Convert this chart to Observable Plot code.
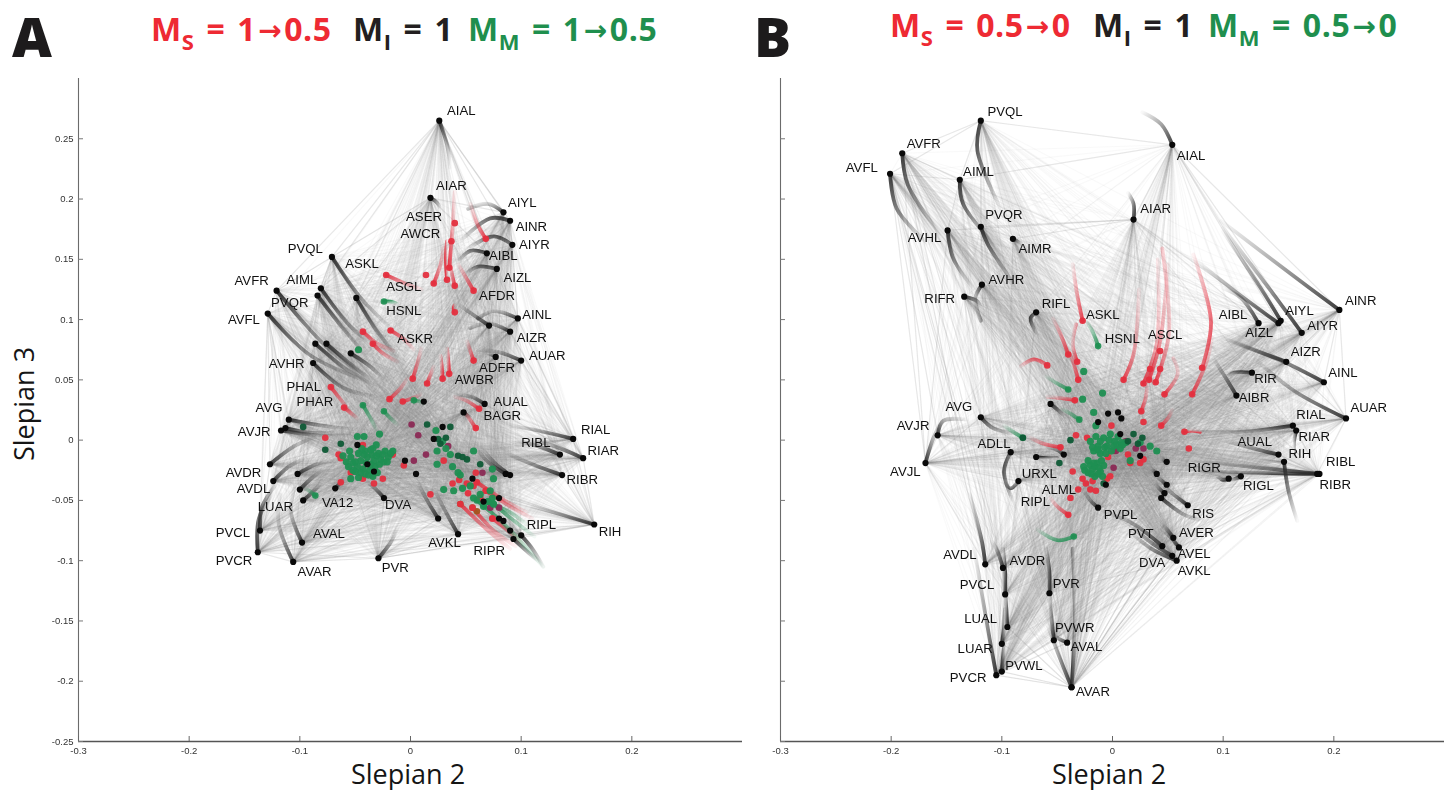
<!DOCTYPE html>
<html><head><meta charset="utf-8">
<script src="https://cdn.jsdelivr.net/npm/d3@7"></script>
<script src="https://cdn.jsdelivr.net/npm/@observablehq/plot@0.6"></script>
<style>
html,body{margin:0;padding:0;background:#fff;width:1448px;height:790px;overflow:hidden}
#page{position:relative;width:1448px;height:790px}
#page svg{position:absolute;top:0;filter:blur(.3px)}
.t{position:absolute;white-space:nowrap;font-family:"Open Sans";font-weight:700;font-size:32px;line-height:38px;letter-spacing:.6px;word-spacing:3px;transform-origin:left top}
.t sub{font-size:22px;vertical-align:-9px;line-height:0}
.t .ar{font-family:"DejaVu Sans";font-weight:700;font-size:28px;line-height:0;vertical-align:1px;margin:0 2px}
.letter{position:absolute;font-family:"Open Sans";font-weight:800;font-size:55px;line-height:60px;color:#1d1b1c}
.ax{position:absolute;font-family:"Open Sans";font-size:27px;line-height:30px;color:#151515;white-space:nowrap;transform-origin:left top}
</style></head><body><div id="page"></div>
<script>
const xTicks=[-0.3,-0.2,-0.1,0,0.1,0.2];
const yTicks=[0.25,0.2,0.15,0.1,0.05,0,-0.05,-0.1,-0.15,-0.2,-0.25];

// each trajectory: name, node x, y, mid x, y, tail x, y (Slepian 2, Slepian 3)
const interA=[
["AIAL",.026,.265,.033,.245,.036,.226],["AIAR",.018,.201,.024,.197,.027,.192],
["AIYL",.084,.189,.07,.196,.052,.192],["AINR",.09,.182,.072,.184,.045,.165],
["AIYR",.092,.162,.075,.169,.052,.159],["AIBL",.069,.155,.054,.157,.043,.148],
["AIZL",.078,.142,.061,.144,.05,.138],["AINL",.097,.101,.075,.107,.061,.101],
["AIZR",.09,.09,.07,.097,.054,.093],["ADFR",.071,.095,.055,.105,.043,.113],
["PVQL",-.071,.152,-.045,.118,-.018,.093],["ASKL",-.049,.118,-.03,.09,-.012,.07],
["AVFR",-.121,.124,-.072,.074,-.036,.051],["AIML",-.081,.126,-.055,.095,-.032,.078],
["PVQR",-.084,.12,-.062,.094,-.04,.07],["AVFL",-.129,.105,-.09,.07,-.028,.045],
["n1",-.086,.08,-.06,.06,-.039,.049],["n2",-.076,.08,-.05,.06,-.033,.049],
["n3",-.054,.072,-.035,.06,-.024,.049],["AVHR",-.088,.064,-.06,.043,-.03,.036],
["AVG",-.11,.017,-.08,.012,-.055,.009],["AVJR",-.117,.008,-.085,.004,-.055,.004],
["n4",-.113,.01,-.09,.006,-.07,.006],["AVDR",-.127,-.02,-.105,-.005,-.085,.003],
["AVDL",-.124,-.034,-.11,-.022,-.095,-.015],["n5",-.102,-.028,-.085,-.02,-.07,-.017],
["n6",-.1,-.041,-.09,-.032,-.08,-.025],["n7",-.097,-.05,-.085,-.04,-.08,-.034],
["n8",-.068,-.04,-.063,-.035,-.06,-.032],["PVCL",-.136,-.075,-.134,-.055,-.12,-.035],
["PVCR",-.138,-.093,-.137,-.065,-.125,-.045],["AVAR",-.106,-.101,-.119,-.07,-.118,-.045],
["AVAL",-.098,-.085,-.108,-.06,-.105,-.04],["PVR",-.029,-.098,-.018,-.085,-.012,-.073],
["DVA",-.024,-.048,-.032,-.04,-.04,-.034],["AVKL",.043,-.078,.032,-.06,.021,-.04],
["n9",.025,-.065,.015,-.05,.006,-.034],["RIH",.166,-.07,.13,-.06,.11,-.055],
["RIAL",.147,.001,.115,.008,.09,.012],["RIAR",.156,-.015,.13,-.005,.11,0],
["RIBL",.135,-.012,.115,-.005,.095,0],["RIBR",.137,-.029,.11,-.02,.085,-.01],
["n10",.086,-.028,.07,-.018,.06,-.007],["n11",.09,-.029,.075,-.018,.065,-.007],
["AUAR",.1,.066,.08,.073,.06,.075],["n12",.077,.069,.073,.071,.07,.072],
["AUAL",.067,.03,.055,.036,.04,.038],["BAGR",.048,.023,.052,.02,.055,.018],
["RIPL",.1,-.079,.11,-.09,.12,-.105],["RIPR",.093,-.082,.105,-.092,.115,-.1]];
const sensoryA=[
[-.022,.137,-.005,.13,.01,.125],[.021,.13,.027,.145,.03,.16],[.033,.133,.032,.15,.033,.165],
[.035,.143,.038,.175,.04,.206],[.04,.128,.036,.145,.036,.16],[.068,.167,.06,.18,.054,.196],
[.057,.124,.05,.135,.043,.146],[.04,.106,.039,.109,.04,.112],[-.043,.09,-.03,.08,-.015,.074],
[-.018,.091,-.005,.083,.003,.075],[-.034,.08,-.025,.072,-.012,.065],[.002,.051,.006,.063,.01,.076],
[-.019,.034,-.01,.042,-.003,.051],[-.007,.032,.002,.035,.009,.038],[.015,.047,.018,.054,.021,.061],
[.029,.051,.028,.063,.027,.07],[.035,.055,.034,.067,.033,.076],[.057,.066,.054,.074,.051,.082],
[-.072,.044,-.06,.03,-.054,.022],[-.06,.027,-.052,.021,-.048,.018],[.062,.026,.05,.033,.04,.036],
[.059,.01,.053,.018,.048,.024],[.045,-.053,.07,-.075,.09,-.09],[.056,-.056,.075,-.075,.095,-.088],
[.074,-.065,.088,-.075,.1,-.085],[.068,-.042,.09,-.055,.11,-.065],[.06,-.035,.085,-.05,.105,-.06]];
const motorA=[
[-.024,.115,-.018,.115,-.012,.113],[-.043,.029,-.036,.018,-.03,.007],[-.024,.024,-.018,.018,-.012,.013],
[.003,.033,.008,.032,.012,.03],[-.086,-.046,-.09,-.043,-.095,-.04],[.06,-.05,.085,-.07,.12,-.105],
[.075,-.053,.095,-.068,.112,-.08],[.07,-.051,.09,-.06,.105,-.07]];
const greenA=[[-.061,-.013],[-.055,-.009],[-.052,-.019],[-.05,-.026],[-.047,-.011],[-.045,-.017],[-.043,-.024],[-.041,-.009],[-.039,-.014],[-.038,-.029],[-.034,-.007],[-.033,-.017],[-.032,-.022],[-.029,-.011],[-.027,-.016],[-.023,-.009],[-.02,-.014],[-.016,-.009],[-.054,-.032],[-.047,-.031],[-.048,.003],[-.042,.003],[-.028,.005],[-.05,-.018],[-.036,-.02],[-.028,-.02],[-.042,-.012],[-.035,-.012],[-.045,-.027],[-.03,-.027],[-.058,-.018],[-.054,-.014],[-.048,-.022],[-.044,-.007],[-.04,-.019],[-.037,-.025],[-.036,-.008],[-.031,-.013],[-.025,-.012],[-.024,-.018],[-.021,-.018],[-.041,-.028],[-.034,-.03],[-.052,-.025],[-.056,-.022],[-.018,-.011],[-.031,-.004],[-.047,.075],[.023,.008],[.029,-.001],[.024,-.009],[.032,-.007],[.057,-.009],[.024,-.02],[.038,-.022],[.036,-.012],[.043,-.027],[.045,-.029],[.03,-.041],[.039,-.042],[.047,-.04],[.074,-.024],[.075,-.032],[.057,-.048],[.074,-.048],[.07,-.051],[.072,-.042],[.063,-.045],[.075,-.053],[.066,-.055],[.054,-.038]];
const darkGreenA=[[-.077,-.008],[-.063,-.003],[-.097,.011],[.015,.013],[.036,.011],[.027,-.003],[.032,.002],[.025,.001],[.043,-.013],[.047,-.014],[.051,-.016],[.063,-.02]];
const redA=[[.014,.137],[.037,.165],[.04,.18],[.03,-.017],[.059,-.027],[.018,-.045],[.038,-.036],[.044,-.033],[.051,-.036],[.057,-.038],[.052,-.044],[.074,-.065],[.068,-.042],[.063,-.048],[-.077,.002],[-.063,-.015],[-.065,-.012],[-.054,-.027],[-.063,-.035],[-.043,-.032],[-.033,-.036],[-.025,-.032],[-.016,-.012],[-.006,-.021],[-.043,-.004]];
const brownA=[[.045,-.053],[.056,-.056],[.06,-.059]];
const plumA=[[.001,.013],[.007,.004],[.014,-.012],[.003,-.017],[.034,-.005],[.065,-.027],[.08,-.056],[.072,-.056]];
const blackA=[[.08,-.048],[.066,-.051],[.08,-.065],[.084,-.067],[.09,-.075],[-.048,-.004],[-.005,-.017],[.005,-.028],[.021,.001],[.029,.011],[.012,.032],[.056,-.032],[-.039,-.02],[-.033,-.026]];
const labelsA=[["AIAL",.033,.273],["AIAR",.023,.211],["AIYL",.088,.197],["AINR",.095,.177],["AIYR",.098,.162],["AIBL",.071,.153],["AIZL",.084,.135],["AFDR",.062,.12],["ASER",-.004,.185],["AWCR",-.009,.171],["PVQL",-.111,.159],["ASKL",-.059,.146],["AVFR",-.159,.132],["AIML",-.112,.133],["ASGL",-.022,.127],["PVQR",-.126,.114],["HSNL",-.022,.107],["AVFL",-.165,.1],["AINL",.101,.104],["AIZR",.096,.085],["ASKR",-.012,.084],["AUAR",.107,.07],["ADFR",.062,.06],["AVHR",-.128,.063],["AWBR",.04,.05],["PHAL",-.112,.044],["AUAL",.075,.032],["PHAR",-.103,.032],["BAGR",.066,.02],["AVG",-.14,.027],["AVJR",-.156,.007],["RIAL",.154,.009],["RIBL",.1,-.002],["RIAR",.16,-.009],["AVDR",-.167,-.027],["RIBR",.141,-.033],["AVDL",-.157,-.04],["LUAR",-.138,-.055],["VA12",-.08,-.052],["DVA",-.023,-.054],["RIPL",.105,-.07],["RIH",.17,-.076],["PVCL",-.176,-.077],["AVAL",-.088,-.078],["AVKL",.016,-.085],["RIPR",.057,-.092],["PVCR",-.176,-.1],["AVAR",-.102,-.109],["PVR",-.026,-.106]];
const wiresA=[["AIAL",["AIAR","AIYL","AINR","AIYR","AIBL","AIZL","PVQL","AIML","AVFR","ASKL","AINL"]],["AIAR",["AIYL","AIBL","PVQL","ASKL","AIML"]],["PVCR",["AVAR","PVCL","AVDL","AVDR","AVKL","PVR","AVAL"]],["AVAR",["AVAL","PVR","AVKL","DVA","RIH","RIPR"]],["RIH",["RIAL","RIAR","RIBL","RIBR","RIPL","AVKL","PVR","RIPR"]],["RIAR",["AUAR","AINL","AIZR","RIBR","AUAL"]],["PVR",["AVKL","RIPL","DVA","n9"]],["AVFL",["AVFR","PVCL","AVDR","AVJR","AVG"]],["PVQL",["AVFR","AIML","PVQR"]],["AINR",["AIYR","AINL","AIZL"]]];

const interB=[
["PVQL",-.119,.265,-.122,.24,-.1,.19],["AVFR",-.19,.238,-.185,.212,-.156,.171],
["AVFL",-.201,.221,-.195,.192,-.167,.163],["AIML",-.138,.216,-.135,.196,-.104,.159],
["PVQR",-.119,.177,-.113,.163,-.086,.126],["AVHL",-.149,.174,-.144,.151,-.126,.126],
["AIMR",-.09,.167,-.086,.165,-.083,.163],["AVHR",-.118,.129,-.124,.118,-.119,.099],
["RIFR",-.134,.119,-.122,.115,-.119,.109],["RIFL",-.069,.106,-.074,.101,-.068,.088],
["AIAL",.054,.245,.044,.262,.027,.272],["AIAR",.019,.183,.019,.196,.014,.205],
["AINR",.205,.108,.161,.138,.098,.182],["AIYR",.171,.089,.143,.124,.1,.176],
["AIYL",.152,.099,.134,.126,.1,.173],["AIZL",.15,.097,.11,.124,.077,.148],
["AIBL",.132,.097,.116,.118,.1,.126],["AIZR",.157,.065,.125,.076,.1,.085],
["AINL",.191,.048,.152,.066,.104,.082],["AUAR",.211,.018,.164,.041,.128,.068],
["RIR",.126,.056,.11,.056,.104,.053],["AIBR",.112,.037,.1,.055,.091,.068],
["RIAL",.163,.012,.119,.007,.073,.007],["RIAR",.166,.008,.164,-.001,.164,-.012],
["AUAL",.15,-.012,.128,-.007,.104,-.001],["RIH",.155,-.018,.159,-.042,.167,-.067],
["RIBL",.187,-.028,.134,-.023,.073,-.017],["RIBR",.185,-.028,.13,-.027,.08,-.025],
["RIGR",.105,-.032,.1,-.033,.095,-.03],["RIGL",.116,-.03,.108,-.033,.1,-.033],
["RIS",.068,-.054,.055,-.045,.045,-.037],["n1",.049,-.018,.047,-.017,.045,-.015],
["n2",.04,-.028,.038,-.026,.035,-.024],["n3",.049,-.037,.045,-.034,.04,-.03],
["n4",.047,-.044,.042,-.04,.038,-.036],["n5",.044,-.048,.065,-.062,.083,-.067],
["AVER",.055,-.081,.05,-.075,.045,-.07],["AVEL",.06,-.089,.052,-.08,.045,-.075],
["DVA",.054,-.096,.035,-.085,.015,-.07],["AVKL",.058,-.1,.035,-.09,.015,-.075],
["PVT",.045,-.088,.02,-.07,-.008,-.059],["PVPL",-.013,-.056,-.02,-.05,-.026,-.042],
["ADLL",-.092,-.01,-.098,-.026,-.09,-.05],["URXL",-.085,-.034,-.092,-.04,-.098,-.034],
["AVG",-.119,.019,-.108,.01,-.086,.005],["AVJR",-.158,.004,-.153,.016,-.131,.017],
["AVJL",-.169,-.019,-.163,-.001,-.156,.013],["n6",-.056,.03,-.048,.024,-.041,.018],
["n7",-.069,-.014,-.06,-.015,-.05,-.015],["n8",-.044,-.012,-.05,-.008,-.058,-.006],
["AVDL",-.115,-.103,-.118,-.084,-.129,-.045],["AVDR",-.099,-.106,-.104,-.092,-.109,-.084],
["PVCL",-.097,-.128,-.097,-.11,-.099,-.09],["LUAL",-.095,-.155,-.096,-.14,-.097,-.125],
["LUAR",-.1,-.169,-.098,-.155,-.097,-.14],["PVWL",-.1,-.192,-.099,-.18,-.097,-.165],
["PVCR",-.105,-.195,-.111,-.165,-.125,-.09],["AVAR",-.037,-.205,-.034,-.15,-.036,-.09],
["n9",-.037,-.205,-.05,-.175,-.06,-.15],["AVAL",-.041,-.168,-.05,-.164,-.054,-.16],
["PVWR",-.053,-.166,-.056,-.14,-.057,-.128],["PVR",-.057,-.127,-.057,-.11,-.06,-.09]];
const sensoryB=[
[-.027,.099,-.032,.121,-.036,.146],[-.04,.071,-.047,.088,-.054,.101],[-.032,.065,-.036,.08,-.033,.096],
[-.031,.05,-.036,.066,-.041,.076],[-.059,.062,-.071,.067,-.083,.061],[-.034,.033,-.047,.035,-.059,.036],
[-.047,-.006,-.062,-.003,-.074,.002],[.01,.05,.019,.071,.024,.125],[.028,.047,.04,.08,.041,.15],
[.033,.05,.043,.082,.05,.146],[.039,.048,.051,.088,.045,.159],[.047,.038,.059,.055,.055,.068],
[.081,.06,.089,.098,.073,.154],[.072,.038,.085,.065,.09,.085],[-.04,-.062,-.05,-.055,-.056,-.048],
[.026,.024,.03,.035,.032,.05],[.044,.012,.05,.018,.054,.025],[.065,.007,.072,.008,.079,.007]];
const motorB=[
[-.013,.078,-.018,.09,-.024,.099],[-.04,.042,-.05,.047,-.06,.053],[-.03,.017,-.038,.022,-.046,.026],
[-.035,-.08,-.05,-.083,-.068,-.074],[-.081,.002,-.09,.007,-.098,.012]];
const greenB=[[-.02,-.001],[-.015,.003],[-.013,-.005],[-.008,.002],[-.005,-.005],[-.002,.005],[.002,-.001],[.005,.003],[-.011,-.011],[-.017,-.009],[-.001,-.009],[.007,-.007],[.012,-.002],[-.018,-.006],[-.011,-.001],[-.007,-.006],[-.003,0],[.001,-.005],[.004,-.004],[.008,-.002],[-.013,-.008],[-.006,-.011],[.009,-.004],[-.026,-.022],[-.022,-.017],[-.018,-.024],[-.014,-.019],[-.011,-.026],[-.016,-.03],[-.008,-.021],[-.022,-.027],[-.009,-.03],[-.02,-.021],[-.016,-.022],[-.012,-.023],[-.019,-.028],[-.013,-.028],[-.017,-.019],[-.01,-.017],[-.025,-.025],[.025,-.002],[.034,-.005],[.04,-.009],[.016,-.017],[-.026,.057],[-.027,.034],[-.009,.039],[-.017,.023],[-.015,.012]];
const darkGreenB=[[.019,.005],[.023,-.003],[.014,-.001],[.027,.002],[-.008,-.036],[-.038,0],[-.048,-.019],[-.081,.002]];
const redB=[[-.033,.004],[-.023,.002],[.028,.015],[.069,-.007],[-.001,.012],[-.036,-.026],[-.038,-.048],[-.031,-.041],[-.027,-.032],[-.024,-.036],[-.018,-.034],[-.02,-.041],[-.015,-.042],[-.002,-.03],[-.005,-.032],[.014,-.012],[.028,-.016],[.025,-.019],[.016,-.019],[.001,-.009],[-.004,-.014],[.034,.059],[.043,.059],[.043,.074]];
const plumB=[[.028,-.007],[.021,-.007],[.003,-.009],[.001,-.023],[.012,-.001]];
const blackB=[[-.004,.022],[.005,.023],[.008,.018],[-.013,.015],[.025,-.013],[-.006,-.037],[.007,.005]];
const labelsB=[["PVQL",-.113,.272],["AIAL",.058,.236],["AVFR",-.186,.246],["AVFL",-.241,.226],["AIML",-.135,.223],["AIAR",.025,.192],["PVQR",-.115,.187],["AIMR",-.085,.159],["AVHL",-.185,.168],["AVHR",-.112,.133],["RIFR",-.17,.117],["RIFL",-.064,.113],["AINR",.21,.116],["ASKL",-.024,.104],["AIBL",.096,.104],["AIYL",.156,.107],["AIYR",.176,.095],["AIZL",.12,.089],["HSNL",-.007,.084],["ASCL",.032,.087],["AIZR",.161,.073],["AINL",.195,.056],["RIR",.128,.051],["AIBR",.114,.035],["AUAR",.215,.027],["RIAL",.166,.021],["AVG",-.151,.028],["RIAR",.168,.003],["AVJR",-.195,.012],["AUAL",.113,-.001],["ADLL",-.122,-.003],["RIH",.159,-.011],["RIBL",.193,-.018],["AVJL",-.201,-.026],["URXL",-.082,-.028],["RIGR",.068,-.023],["RIBR",.187,-.037],["RIGL",.118,-.038],["ALML",-.064,-.041],["RIPL",-.083,-.051],["RIS",.072,-.061],["PVPL",-.008,-.062],["PVT",.014,-.078],["AVER",.06,-.077],["AVEL",.059,-.094],["DVA",.024,-.102],["AVKL",.059,-.108],["AVDL",-.153,-.095],["AVDR",-.093,-.1],["PVCL",-.138,-.12],["PVR",-.054,-.119],["LUAL",-.134,-.148],["PVWR",-.052,-.156],["AVAL",-.038,-.171],["LUAR",-.14,-.173],["PVWL",-.097,-.187],["PVCR",-.147,-.197],["AVAR",-.033,-.209]];
const wiresB=[["PVQL",["AVFR","AVFL","AIML","AIAL","PVQR","AIMR"]],["AIML",["AIAL","AVFR","AVFL","PVQR","AVHL"]],["AIAL",["AIAR","AINR","AIYR","AIYL","AIZL"]],["AIAR",["PVQR","AIMR","AVHL","AIBL","AIZL"]],["AVAR",["PVCR","PVWL","LUAR","LUAL","AVAL","PVWR","AVKL","DVA","AVEL","PVT","RIS"]],["PVCR",["AVDL","AVDR","PVCL","LUAL","PVWR","PVR","AVAL"]],["AVJL",["AVJR","AVG","ADLL","URXL","AVDL","AVFL","AVFR","AVHL"]],["AVKL",["AVEL","AVER","RIH","RIBR","RIGL","RIS","PVR"]],["AUAR",["AINL","AINR","AIZR","RIAL","RIBR"]],["RIBL",["RIAR","RIH","AUAL","RIGL","AIBR","AVEL"]],["AVFL",["AVDL","AVDR","AVJR","PVCL","AVHR"]],["AVFR",["AVDL","AVDR","AVG","AVHR","RIFR"]],["AINR",["AINL","AIZR","AIYR"]]];

const titlesA=[["M","S"," = 1","0.5","#ee2a33",151,14],["M","I"," = 1","","#231f20",353,14],["M","M"," = 1","0.5","#1f8f4e",468,14]];
const titlesB=[["M","S"," = 0.5","0","#ee2a33",890,10],["M","I"," = 1","","#231f20",1093,10],["M","M"," = 0.5","0","#1f8f4e",1208,10]];
const colors={i:"#2b2b2b",s:"#e4303f",m:"#1f8f52"};

function panel(cfg){
  const {left,width,marginRight,inter,sensory,motor,green,dark,red,plum,brown,black,labels,wires,yLabels,key}=cfg;
  const named=new Map(inter.map(n=>[n[0],n]));
  const link=(a,b)=>({x1:a[0],y1:a[1],x2:b[0],y2:b[1]});
  const small=[...green,...red,...dark,...plum,...black,...sensory,...motor];
  const mesh=[];
  inter.forEach((n,i)=>{
    small.forEach((s,j)=>{if(j%2===0)mesh.push(link(n.slice(1,3),s))});
    inter.slice(i+1).forEach(m=>mesh.push(link(n.slice(1,3),m.slice(1,3))));
  });
  const strong=[];
  wires.forEach(([a,list])=>list.forEach(b=>{const p=named.get(a),q=named.get(b);if(p&&q)strong.push(link(p.slice(1,3),q.slice(1,3)))}));
  const rows=[];
  const addTrail=(t,c,i)=>{
    const d=(t[0]>t[4]?"r":"l")+(t[1]>t[5]?"u":"d");
    const paint=`url(#${key}${c}${d})`;
    [[t[4],t[5]],[t[2],t[3]],[t[0],t[1]]].forEach(p=>rows.push({x:p[0],y:p[1],id:c+i,paint}));
  };
  inter.forEach((n,i)=>addTrail(n.slice(1),"i",i));
  sensory.forEach((n,i)=>addTrail(n,"s",i));
  motor.forEach((n,i)=>addTrail(n,"m",i));
  const dot=(data,fill,o=.95,r=3.3)=>Plot.dot(data,{x:d=>d[0],y:d=>d[1],r,fill,fillOpacity:o,stroke:"none"});
  const svg=Plot.plot({
    width,height:790,marginLeft:78,marginRight,marginTop:78,marginBottom:49,
    style:{background:"transparent",overflow:"visible"},
    color:{type:"identity"},
    x:{domain:[-.3,.3],ticks:xTicks},
    y:{domain:[-.25,.3],ticks:yTicks},
    marks:[
      Plot.link(mesh,{x1:"x1",y1:"y1",x2:"x2",y2:"y2",stroke:"#8a8a8a",strokeOpacity:.05,strokeWidth:1.1}),
      Plot.link(strong,{x1:"x1",y1:"y1",x2:"x2",y2:"y2",stroke:"#8a8a8a",strokeOpacity:.16,strokeWidth:1.2}),
      Plot.line(rows,{x:"x",y:"y",z:"id",stroke:"paint",strokeWidth:3.8,curve:"catmull-rom",strokeLinecap:"round"}),
      Plot.ruleX([-.3],{stroke:"#6b6b6b",strokeWidth:1.1}),
      Plot.ruleY([-.25],{stroke:"#555",strokeWidth:1.5}),
      Plot.axisX({ticks:xTicks,tickSize:-5,tickPadding:11,fontSize:9.5,fontFamily:"Liberation Sans",stroke:"#666",color:"#333",tickFormat:d=>d===0?"0":String(d),label:null}),
      Plot.axisY({ticks:yTicks,tickSize:-5,tickPadding:yLabels?10:0,fontSize:9.5,fontFamily:"Liberation Sans",stroke:"#777",color:"#333",tickFormat:yLabels?(d=>String(d)):(()=>""),label:null}),
      dot(brown,"#a4541f"),dot(red,colors.s),dot(sensory,colors.s,.95),
      dot(plum,"#8b2a55"),dot(green,colors.m,.95,3.6),dot(motor,colors.m,.92),dot(dark,"#0f5a36"),
      dot(black,"#0a0a0a",1,3.1),
      Plot.dot(inter,{x:d=>d[1],y:d=>d[2],r:3.1,fill:"#0a0a0a",stroke:"none"}),
      Plot.text(labels,{x:d=>d[1],y:d=>d[2],text:d=>d[0],textAnchor:"start",fontSize:13.2,fontFamily:"Liberation Sans",fill:"#111"})
    ]
  });
  // fading trails: tail corner of each trail's box to its node corner
  const NS="http://www.w3.org/2000/svg";
  const defs=document.createElementNS(NS,"defs");
  const grads={ru:[0,1,1,0],rd:[0,0,1,1],lu:[1,1,0,0],ld:[1,0,0,1]};
  const stops={i:[.03,.42,.9],s:[.06,.42,.9],m:[.05,.42,.9]};
  for(const c in colors)for(const d in grads){
    const g=document.createElementNS(NS,"linearGradient");
    g.setAttribute("id",key+c+d);
    ["x1","y1","x2","y2"].forEach((a,i)=>g.setAttribute(a,grads[d][i]));
    stops[c].forEach((a,i)=>{
      const s=document.createElementNS(NS,"stop");
      s.setAttribute("offset",i/2);s.setAttribute("stop-color",colors[c]);s.setAttribute("stop-opacity",a);g.appendChild(s);
    });
    defs.appendChild(g);
  }
  svg.insertBefore(defs,svg.firstChild);
  svg.style.left=left+"px";
  return svg;
}
const page=document.getElementById("page");
page.appendChild(panel({key:"a",left:0,width:750,marginRight:8,inter:interA,sensory:sensoryA,motor:motorA,green:greenA,dark:darkGreenA,red:redA,plum:plumA,brown:brownA,black:blackA,labels:labelsA,wires:wiresA,yLabels:true}));
page.appendChild(panel({key:"b",left:702,width:746,marginRight:4,inter:interB,sensory:sensoryB,motor:motorB,green:greenB,dark:darkGreenB,red:redB,plum:plumB,brown:[],black:blackB,labels:labelsB,wires:wiresB,yLabels:false}));

function addTitle([m,sub,eq,to,color,x,y]){
  const d=document.createElement("div");d.className="t";d.style.left=x+"px";d.style.top=y-4+"px";d.style.color=color;
  d.innerHTML=`${m}<sub>${sub}</sub>${eq}${to?`<span class="ar">→</span>${to}`:""}`;
  page.appendChild(d);
}
titlesA.forEach(addTitle);titlesB.forEach(addTitle);
function addEl(cls,txt,css){const d=document.createElement("div");d.className=cls;d.textContent=txt;Object.assign(d.style,css);page.appendChild(d);return d;}
addEl("letter","A",{left:"12px",top:"6px"});
addEl("letter","B",{left:"754px",top:"6px"});
addEl("ax","Slepian 2",{left:"351px",top:"759px"});
addEl("ax","Slepian 2",{left:"1052px",top:"759px"});
addEl("ax","Slepian 3",{left:"9px",top:"461px",transform:"rotate(-90deg)"});
</script></body></html>
